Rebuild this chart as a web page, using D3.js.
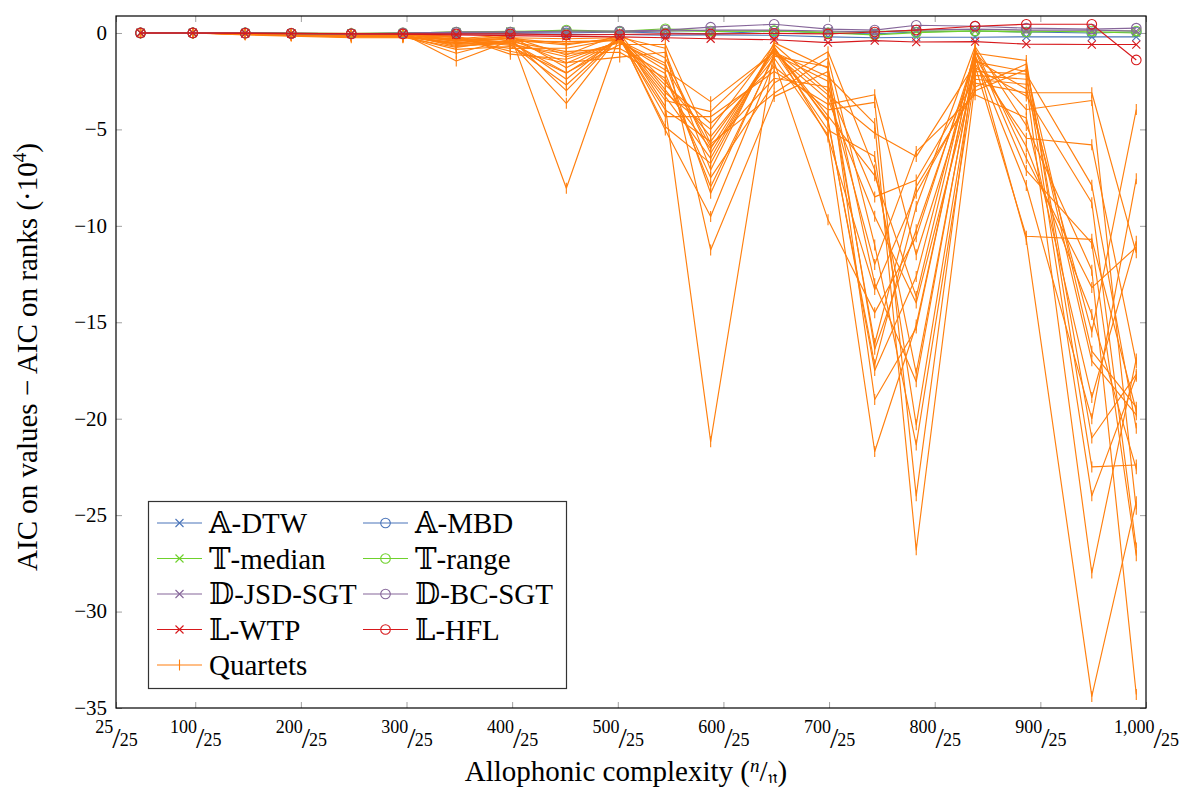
<!DOCTYPE html>
<html><head><meta charset="utf-8">
<script src="https://cdn.jsdelivr.net/npm/d3@7"></script>
<style>
body{margin:0;background:#fff}
</style>
</head><body>
<svg id="chart" width="1186" height="789"></svg>
<script>
// ---------- data ----------
const complexity = [48.2, 97.7, 147.3, 190.9, 247.7, 296.6, 347.1, 398.3, 451.3, 501.8,
                    545.0, 587.9, 648.0, 699.0, 743.2, 782.5, 838.2, 886.7, 948.7, 990.8];
const xTickValues = [25, 100, 200, 300, 400, 500, 600, 700, 800, 900, 1000];
const xTickNumerators = ["25", "100", "200", "300", "400", "500", "600", "700", "800", "900", "1,000"];
const xTickDenominator = "25";
const yTickValues = [0, -5, -10, -15, -20, -25, -30, -35];

const seriesNames = ["𝔸-DTW", "𝔸-MBD", "𝕋-median", "𝕋-range", "𝔻-JSD-SGT", "𝔻-BC-SGT", "𝕃-WTP", "𝕃-HFL"];
const seriesMarks = ["x", "o", "x", "o", "x", "o", "x", "o"];
const seriesColors = ["#4a74b9", "#4a74b9", "#6fd12c", "#6fd12c", "#86669a", "#86669a", "#d7191c", "#d7191c"];

const aDTW   = [0, 0, -0.02, -0.03, -0.05, -0.05, -0.05, -0.05, -0.08, -0.08, -0.12, -0.1, -0.12, -0.2, -0.25, -0.22, -0.22, -0.2, -0.2, -0.2];
const aMBD   = [0, 0, 0, -0.02, -0.03, -0.02, 0.02, 0.02, 0, 0.05, 0, -0.05, 0.1, 0, -0.05, 0.05, 0.1, 0.05, 0, 0.05];
const tMedian= [0, 0, 0, -0.02, -0.03, 0, 0.05, 0.08, 0.1, 0.05, 0.12, 0.08, 0.1, 0.05, 0.08, 0.1, 0.1, 0.1, 0.05, 0];
const tRange = [0, 0, 0, -0.02, -0.03, 0, 0.05, 0.05, 0.15, 0.08, 0.22, 0.1, 0.12, 0, -0.1, 0.02, 0.1, 0.05, 0.1, 0.1];
const dJSD   = [0, 0, 0, -0.02, -0.04, -0.02, 0.03, 0.05, 0.05, 0.05, 0.1, 0.15, 0.15, 0.1, 0.05, 0.15, 0.2, 0.15, 0.15, 0.1];
const dBC    = [0, 0, 0, -0.02, -0.05, 0, 0.05, 0.05, 0.1, 0.1, 0.15, 0.3, 0.45, 0.2, 0.15, 0.4, 0.35, 0.25, 0.2, 0.25];
const lWTP   = [0, 0, -0.02, -0.03, -0.05, -0.06, -0.1, -0.14, -0.18, -0.2, -0.25, -0.3, -0.35, -0.5, -0.4, -0.47, -0.45, -0.58, -0.6, -0.6];
const lHFL   = [0, 0, -0.01, -0.02, -0.04, -0.05, -0.05, -0.05, -0.1, -0.08, -0.05, -0.05, -0.02, -0.05, 0.05, 0.15, 0.35, 0.45, 0.45, -1.4];
const seriesValues = [aDTW, aMBD, tMedian, tRange, dJSD, dBC, lWTP, lHFL];

// Quartets: for each complexity point, the value of each of the 20 runs
const quartetsAtPoint = [
  [0,0,0,0,0,0,0,0,0,0,0,0,0,0,0,0,0,0,0,0],
  [0,0,0,0,0,0,0,0,0,0,0,0,0,0,0,0,0,0,0,0],
  [-0.02,-0.07,-0.03,-0.05,-0.01,-0.1,-0.03,-0.05,-0.04,-0.01,-0.06,-0.03,-0.04,-0.02,-0.08,-0.03,-0.05,-0.02,-0.06,-0.04],
  [-0.04,-0.12,-0.06,-0.08,-0.02,-0.16,-0.05,-0.1,-0.07,-0.03,-0.11,-0.05,-0.08,-0.03,-0.14,-0.06,-0.09,-0.04,-0.1,-0.07],
  [-0.05,-0.17,-0.08,-0.11,-0.02,-0.25,-0.06,-0.13,-0.09,-0.03,-0.15,-0.07,-0.1,-0.04,-0.2,-0.08,-0.12,-0.05,-0.14,-0.1],
  [-0.06,-0.2,-0.1,-0.14,-0.03,-0.25,-0.08,-0.16,-0.11,-0.04,-0.18,-0.09,-0.13,-0.05,-0.22,-0.1,-0.15,-0.07,-0.17,-0.12],
  [-0.35,-0.55,-0.2,-1.05,-0.45,-0.3,-0.7,-0.4,-0.15,-1.45,-0.5,-0.32,-0.6,-0.42,-0.75,-0.25,-0.52,-0.38,-0.85,-0.65],
  [-0.2,-0.42,-0.6,-0.33,-0.8,-0.1,-0.48,-0.28,-1.1,-0.4,-0.25,-0.65,-0.5,-0.15,-0.36,-0.95,-0.3,-0.45,-0.7,-0.55],
  [-1.14,-0.45,-2.7,-1.54,-0.79,-8.05,-2.06,-0.55,-1.36,-2.4,-0.3,-1.05,-3.65,-1.8,-0.62,-1.57,-2.99,-0.97,-2.09,-1.23],
  [-0.05,-0.4,-0.2,-1.25,-0.28,-0.12,-0.6,-0.32,-0.45,-0.15,-0.25,-1.0,-0.1,-0.35,-0.22,-0.38,-0.18,-0.8,-0.3,-0.5],
  [-2.95,-1.57,-4.34,-1.0,-2.52,-3.82,-0.6,-3.3,-1.92,-5.03,-3.1,-2.35,-1.3,-3.99,-0.79,-2.7,-4.86,-2.1,-3.5,-1.7],
  [-6.0,-8.31,-4.34,-7.1,-5.38,-21.19,-5.75,-6.5,-3.56,-9.52,-5.0,-7.5,-6.24,-5.63,-11.25,-4.68,-6.76,-7.97,-4.08,-5.89],
  [-0.8,-1.1,-2.0,-0.5,-1.3,-0.9,-3.13,-0.75,-1.0,-1.5,-0.6,-2.6,-0.85,-1.05,-3.3,-1.75,-0.7,-1.2,-0.95,-2.35],
  [-4.3,-2.5,-3.7,-1.83,-5.29,-3.21,-1.3,-4.6,-2.27,-9.69,-3.04,-0.97,-4.51,-3.47,-2.0,-3.99,-5.4,-1.75,-5.03,-2.8],
  [-7.4,-16.1,-3.2,-13.0,-21.7,-5.2,-11.0,-17.2,-4.7,-14.5,-12.0,-7.1,-17.5,-9.5,-16.4,-3.6,-13.3,-19.0,-6.4,-8.5],
  [-13.67,-7.97,-11.5,-18.08,-15.14,-6.41,-21.36,-9.0,-26.8,-10.56,-6.15,-17.64,-12.63,-14.0,-10.2,-24.0,-8.31,-15.3,-20.32,-7.62],
  [-0.8,-3.0,-1.8,-1.3,-1.05,-1.6,-2.2,-0.7,-2.6,-1.1,-3.2,-1.5,-0.9,-2.0,-1.4,-1.2,-2.8,-1.0,-1.7,-2.4],
  [-6.5,-1.9,-3.27,-7.91,-1.43,-5.46,-2.4,-4.8,-3.1,-10.71,-4.41,-2.0,-7.13,-2.13,-2.9,-5.9,-1.61,-3.97,-10.54,-2.66],
  [-13.2,-16.5,-8.8,-20.0,-22.5,-5.8,-17.0,-12.3,-3.1,-34.4,-18.9,-24.0,-10.9,-7.9,-15.5,-14.6,-21.0,-3.5,-10.7,-28.0],
  [-11.1,-19.4,-26.7,-7.56,-22.4,-17.1,-19.8,-34.3,-11.4,-24.3,-10.8,-17.8,-27.1,-20.5,-3.97,-22.6,-17.7,-24.7,-19.6,-16.9]
];
const quartetsName = "Quartets";
const quartetsColor = "#ff7f0e";

// ---------- layout ----------
const FONT = '"Liberation Serif", "Times New Roman", "DejaVu Serif", serif';
const svg = d3.select("#chart");
const L = 116, R = 1146, T = 16, B = 708;
const x = d3.scaleLinear().domain([25, 1000]).range([L, R]);
const y = d3.scaleLinear().domain([-35, 0.88]).range([B, T]);
const tickColor = "#a0a0a0";

function styleAxis(g) {
  g.select(".domain").remove();
  g.selectAll(".tick line").attr("stroke", tickColor).attr("stroke-width", 1);
}
svg.append("g").attr("transform", `translate(0,${T})`)
  .call(d3.axisTop(x).tickValues(xTickValues).tickSize(-6).tickFormat(""))
  .call(styleAxis);
svg.append("g").attr("transform", `translate(${R},0)`)
  .call(d3.axisRight(y).tickValues(yTickValues).tickSize(-6).tickFormat(""))
  .call(styleAxis);

const yAxis = svg.append("g").attr("transform", `translate(${L},0)`)
  .call(d3.axisLeft(y).tickValues(yTickValues).tickSize(-6).tickPadding(9)
        .tickFormat(d => d < 0 ? "\u2212" + Math.abs(d) : String(d)))
  .call(styleAxis);
yAxis.selectAll(".tick text").style("font-size", "21px")
  .style("font-family", FONT).attr("fill", "#000").attr("dy", "0.3em");

const xAxis = svg.append("g").attr("transform", `translate(0,${B})`)
  .call(d3.axisBottom(x).tickValues(xTickValues).tickSize(-6).tickFormat(""))
  .call(styleAxis);
xAxis.selectAll(".tick").each(function(d, i) {
  const t = d3.select(this).append("text").attr("text-anchor", "middle")
    .attr("y", 25).style("font-family", FONT).attr("fill", "#000");
  t.append("tspan").style("font-size", "18px").text(xTickNumerators[i]);
  t.append("tspan").style("font-size", "30px").attr("dx", -1).attr("dy", 15).text("/");
  t.append("tspan").style("font-size", "18px").attr("dx", -1).attr("dy", -2).text(xTickDenominator);
});

// ---------- marks ----------
const marksG = svg.append("g");
const line = d3.line().x(d => x(d[0])).y(d => y(d[1]));
const markPath = { x: "M-4,-4L4,4M-4,4L4,-4", q: "M0,-5.5V5.5" };

function drawMarker(g, type, color, cx, cy) {
  if (type === "o") {
    g.append("circle").attr("cx", cx).attr("cy", cy).attr("r", 4.8)
      .attr("fill", "none").attr("stroke", color).attr("stroke-width", 1.1);
  } else {
    g.append("path").attr("d", markPath[type]).attr("transform", `translate(${cx},${cy})`)
      .attr("fill", "none").attr("stroke", color).attr("stroke-width", 1.1);
  }
}

const nRuns = quartetsAtPoint[0].length;
for (let r = 0; r < nRuns; r++) {
  const pts = complexity.map((c, i) => [c, quartetsAtPoint[i][r]]);
  const g = marksG.append("g");
  g.append("path").datum(pts).attr("d", line).attr("fill", "none")
    .attr("stroke", quartetsColor).attr("stroke-width", 1.15).attr("stroke-linejoin", "round");
  pts.forEach(p => drawMarker(g, "q", quartetsColor, x(p[0]), y(p[1])));
}

seriesValues.forEach((vals, s) => {
  const pts = complexity.map((c, i) => [c, vals[i]]);
  const g = marksG.append("g");
  g.append("path").datum(pts).attr("d", line).attr("fill", "none")
    .attr("stroke", seriesColors[s]).attr("stroke-width", 1.15);
  pts.forEach(p => drawMarker(g, seriesMarks[s], seriesColors[s], x(p[0]), y(p[1])));
});

svg.append("rect").attr("x", L).attr("y", T).attr("width", R - L).attr("height", B - T)
  .attr("fill", "none").attr("stroke", "#000").attr("stroke-width", 1.2);

// ---------- legend ----------
const lg = svg.append("g");
lg.append("rect").attr("x", 148.5).attr("y", 501.5).attr("width", 418).attr("height", 187)
  .attr("fill", "#fff").attr("stroke", "#333").attr("stroke-width", 1.2);
const legendItems = seriesNames.map((n, i) => ({ name: n, mark: seriesMarks[i], color: seriesColors[i] }))
  .concat([{ name: quartetsName, mark: "q", color: quartetsColor }]);
legendItems.forEach((it, i) => {
  const col = i < 8 ? i % 2 : 0;
  const row = Math.floor(i / 2);
  const x0 = col === 0 ? 157 : 363;
  const cy = 523 + row * 35.5;
  lg.append("line").attr("x1", x0).attr("x2", x0 + 45).attr("y1", cy).attr("y2", cy)
    .attr("stroke", it.color).attr("stroke-width", 1.15);
  drawMarker(lg, it.mark, it.color, x0 + 22.5, cy);
  lg.append("text").attr("x", x0 + 52).attr("y", cy + 10).style("font-family", FONT)
    .style("font-size", "29px").text(it.name);
});

// ---------- axis labels ----------
const xl = svg.append("text").attr("x", 626).attr("y", 781).attr("text-anchor", "middle")
  .style("font-family", FONT).style("font-size", "29px");
xl.append("tspan").text("Allophonic complexity (");
xl.append("tspan").style("font-size", "19px").style("font-style", "italic").attr("dy", -9).text("n");
xl.append("tspan").attr("dy", 9).text("/");
xl.append("tspan").style("font-size", "19px").attr("dy", 2).text("𝔫");
xl.append("tspan").attr("dy", -2).text(")");

const yl = svg.append("text").attr("transform", "translate(37,357) rotate(-90)")
  .attr("text-anchor", "middle").style("font-family", FONT).style("font-size", "29px");
yl.append("tspan").text("AIC on values \u2212 AIC on ranks (\u00b710");
yl.append("tspan").style("font-size", "19px").attr("dy", -11).text("4");
yl.append("tspan").attr("dy", 11).text(")");
</script>
</body></html>
